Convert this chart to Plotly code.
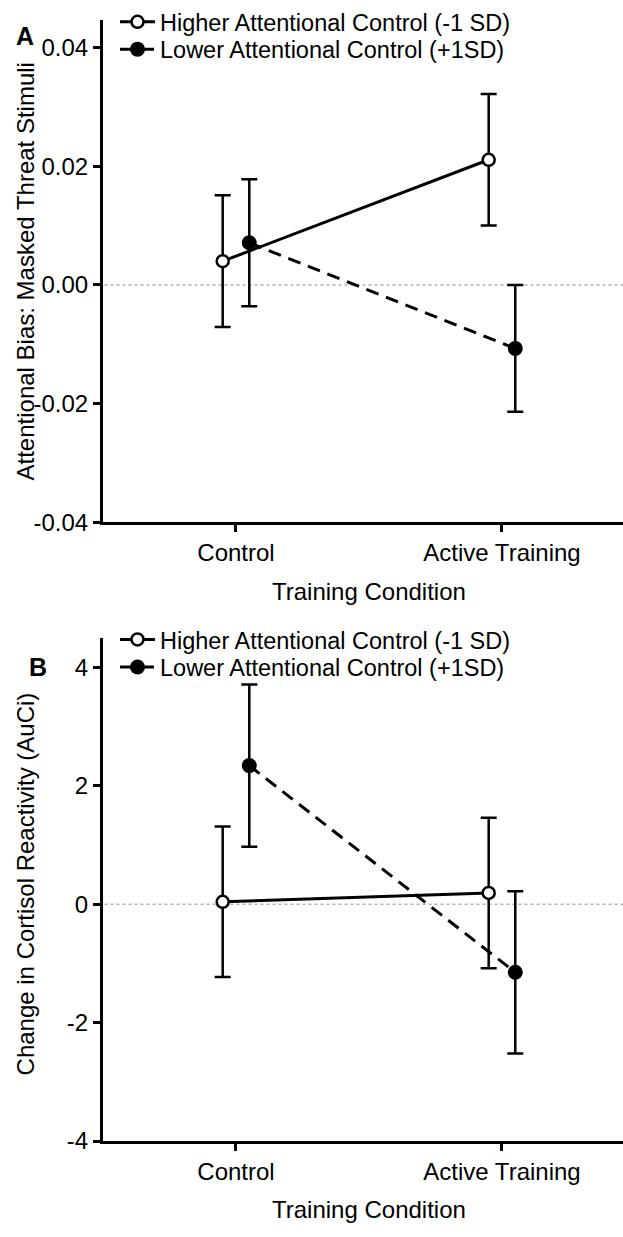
import plotly.graph_objects as go

W, H = 623, 1237

categories = ["Control", "Active Training"]
series_names = ["Higher Attentional Control (-1 SD)", "Lower Attentional Control (+1SD)"]

# Panel A: Attentional bias (masked threat stimuli)
a_higher = [0.0040, 0.0211]
a_higher_err = [0.0111, 0.0111]
a_lower = [0.0071, -0.0107]
a_lower_err = [0.0107, 0.0107]

# Panel B: Change in cortisol reactivity (AuCi)
b_higher = [0.04, 0.19]
b_higher_err = [1.27, 1.27]
b_lower = [2.34, -1.15]
b_lower_err = [1.37, 1.37]

a_ticks = [-0.04, -0.02, 0.00, 0.02, 0.04]
a_ticklabels = ["-0.04", "-0.02", "0.00", "0.02", "0.04"]
b_ticks = [-4, -2, 0, 2, 4]
b_ticklabels = ["-4", "-2", "0", "2", "4"]

FONT = "Liberation Sans, Arial, Helvetica, sans-serif"
FS = 24
LFS = 23.5

def px_x(p):
    return p / W

def px_y(p):
    return 1 - p / H

offset = 0.05
xs_idx = list(range(len(categories)))
x_left = [i - offset for i in xs_idx]
x_right = [i + offset for i in xs_idx]

fig = go.Figure()

def add_pair(hi, hi_err, lo, lo_err, xa, ya, leg_hi, leg_lo):
    fig.add_trace(go.Scatter(
        x=x_left, y=hi, mode="lines+markers", name=series_names[0],
        xaxis=xa, yaxis=ya, legend=leg_hi, showlegend=True,
        line=dict(color="black", width=3),
        marker=dict(symbol="circle", size=12, color="white", line=dict(color="black", width=2.5)),
        error_y=dict(type="data", array=hi_err, visible=True, color="black", thickness=2.5, width=8),
    ))
    fig.add_trace(go.Scatter(
        x=x_right, y=lo, mode="lines+markers", name=series_names[1],
        xaxis=xa, yaxis=ya, legend=leg_lo, showlegend=True,
        line=dict(color="black", width=3, dash="13px,8px"),
        marker=dict(symbol="circle", size=15, color="black", line=dict(color="black", width=0)),
        error_y=dict(type="data", array=lo_err, visible=True, color="black", thickness=2.5, width=8),
    ))

add_pair(a_higher, a_higher_err, a_lower, a_lower_err, "x", "y", "legend", "legend2")
add_pair(b_higher, b_higher_err, b_lower, b_lower_err, "x2", "y2", "legend3", "legend4")

x_dom = [px_x(103), 1.0]
a_dom = [px_y(526), px_y(17)]
b_dom = [px_y(1153), px_y(643)]

xcommon = dict(
    range=[-0.5, 1.455], tickmode="array", tickvals=xs_idx, ticktext=categories,
    showline=True, linecolor="black", linewidth=3, ticks="outside", ticklen=7,
    tickwidth=2.5, tickcolor="black", showgrid=False, zeroline=False,
    tickfont=dict(family=FONT, size=FS, color="black"), fixedrange=True,
)
ycommon = dict(
    showline=True, linecolor="black", linewidth=3, ticks="outside", ticklen=7,
    tickwidth=2.5, tickcolor="black", showgrid=False, zeroline=False,
    tickfont=dict(family=FONT, size=FS, color="black"), fixedrange=True,
)

def leg(ypx):
    return dict(x=px_x(115), y=px_y(ypx), xanchor="left", yanchor="middle",
                bgcolor="rgba(0,0,0,0)", borderwidth=0,
                font=dict(family=FONT, size=LFS, color="black"),
                itemwidth=35)

fig.update_layout(
    width=W, height=H,
    margin=dict(l=0, r=0, t=0, b=0),
    paper_bgcolor="white", plot_bgcolor="white",
    font=dict(family=FONT, size=FS, color="black"),
    xaxis=dict(domain=x_dom, anchor="y", **xcommon),
    yaxis=dict(domain=a_dom, anchor="x", range=[-0.04, 0.0447],
               tickmode="array", tickvals=a_ticks, ticktext=a_ticklabels, **ycommon),
    xaxis2=dict(domain=x_dom, anchor="y2", **xcommon),
    yaxis2=dict(domain=b_dom, anchor="x2", range=[-4, 4.5],
                tickmode="array", tickvals=b_ticks, ticktext=b_ticklabels, **ycommon),
    legend=leg(19),
    legend2=leg(47),
    legend3=leg(645),
    legend4=leg(673),
    showlegend=True,
)

# dotted zero reference lines
for yref in ["y", "y2"]:
    fig.add_shape(type="line", xref="paper", yref=yref, x0=px_x(104.5), x1=1.0, y0=0, y1=0,
                  line=dict(color="#888888", width=1, dash="dot"), layer="below")

annotations = [
    dict(text="<b>A</b>", x=px_x(25), y=px_y(33), showarrow=False, xanchor="center", yanchor="middle",
         font=dict(family=FONT, size=25, color="black")),
    dict(text="<b>B</b>", x=px_x(38), y=px_y(673), showarrow=False, xanchor="center", yanchor="middle",
         font=dict(family=FONT, size=25, color="black")),
    dict(text="Attentional Bias: Masked Threat Stimuli", x=px_x(25), y=px_y(272), textangle=-90,
         showarrow=False, xanchor="center", yanchor="middle", font=dict(family=FONT, size=FS, color="black")),
    dict(text="Change in Cortisol Reactivity (AuCi)", x=px_x(25), y=px_y(893), textangle=-90,
         showarrow=False, xanchor="center", yanchor="middle", font=dict(family=FONT, size=FS, color="black")),
    dict(text="Training Condition", x=px_x(369), y=px_y(596), showarrow=False, xanchor="center",
         yanchor="middle", font=dict(family=FONT, size=FS, color="black")),
    dict(text="Training Condition", x=px_x(369), y=px_y(1222), showarrow=False, xanchor="center",
         yanchor="middle", font=dict(family=FONT, size=FS, color="black")),
]
for a in annotations:
    a.update(xref="paper", yref="paper")
fig.update_layout(annotations=annotations)

fig.write_html("out.html", config={"displayModeBar": False})
